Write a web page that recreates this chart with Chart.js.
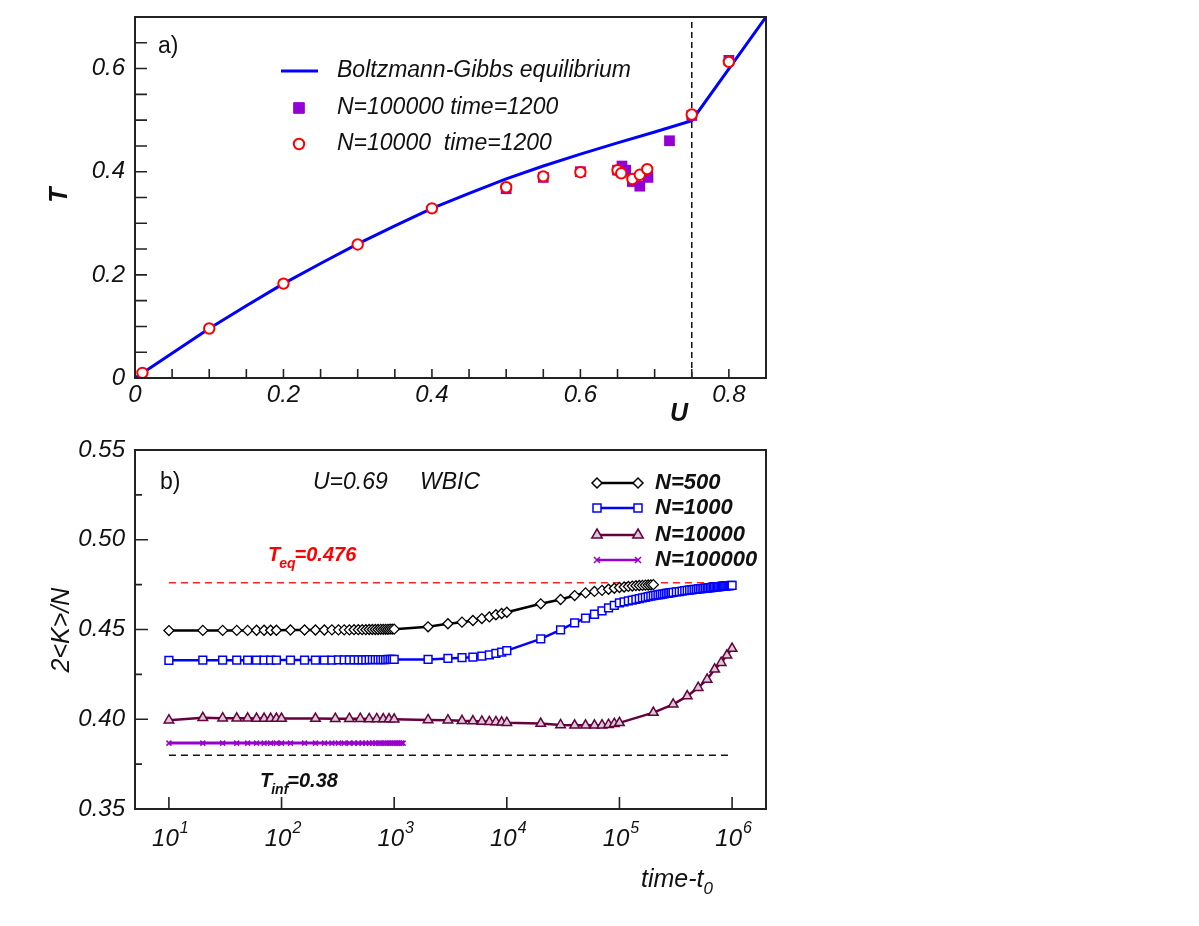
<!DOCTYPE html>
<html>
<head>
<meta charset="utf-8">
<title>HMF caloric curve and relaxation</title>
<script src="https://cdn.jsdelivr.net/npm/chart.js@4.4.1/dist/chart.umd.min.js"></script>
<style>
  html, body { margin: 0; padding: 0; background: #fff; }
  #wrap { position: relative; width: 1199px; height: 926px; background: #fff; }
  #canvasA { position: absolute; left: 0; top: 0; }
  #canvasB { position: absolute; left: 0; top: 430px; }
</style>
</head>
<body>
<div id="wrap">
  <canvas id="canvasA" width="800" height="430"></canvas>
  <canvas id="canvasB" width="800" height="496"></canvas>
</div>
<script>
// ---------- panel a) : caloric curve T(U) ----------
const gibbsU = [0, 0.05, 0.1, 0.15, 0.2, 0.25, 0.3, 0.35, 0.4, 0.45, 0.5, 0.55, 0.6, 0.65, 0.7, 0.75, 0.85];
const gibbsT = [0, 0.048, 0.096, 0.140, 0.183, 0.222, 0.260, 0.295, 0.329, 0.358, 0.386, 0.411, 0.434, 0.456, 0.477, 0.499, 0.700];

const bigU = [0.5, 0.55, 0.6, 0.65, 0.656, 0.661, 0.67, 0.68, 0.691, 0.72, 0.75, 0.8];
const bigT = [0.367, 0.389, 0.400, 0.403, 0.411, 0.403, 0.381, 0.372, 0.389, 0.460, 0.509, 0.616];

const smallU = [0.01, 0.1, 0.2, 0.3, 0.4, 0.5, 0.55, 0.6, 0.65, 0.655, 0.67, 0.68, 0.69, 0.75, 0.8];
const smallT = [0.010, 0.096, 0.183, 0.259, 0.329, 0.370, 0.391, 0.399, 0.403, 0.397, 0.386, 0.394, 0.405, 0.511, 0.613];

const uCritical = 0.75;
const uLabels = [0, 0.2, 0.4, 0.6, 0.8];
const tLabels = [0, 0.2, 0.4, 0.6];
const uMinorTicks = [0.05, 0.1, 0.15, 0.2, 0.25, 0.3, 0.35, 0.4, 0.45, 0.5, 0.55, 0.6, 0.65, 0.7, 0.75, 0.8];
const tMinorTicks = [0.05, 0.1, 0.15, 0.2, 0.25, 0.3, 0.35, 0.4, 0.45, 0.5, 0.55, 0.6, 0.65];

// ---------- panel b) : 2<K>/N versus time ----------
const time500 = [10, 20, 30, 40, 50, 60, 70, 80, 90,
  120, 160, 200, 240, 280, 320, 360, 400, 440, 480, 520, 560, 600, 640, 680, 720, 760, 800, 840, 880, 920, 960, 1000,
  2000, 3000, 4000, 5000, 6000, 7000, 8000, 9000, 10000,
  20000, 30000, 40000, 50000, 60000, 70000, 80000, 90000, 100000,
  110000, 120000, 130000, 140000, 150000, 160000, 170000, 180000, 190000, 200000];
const kin500 = [0.4494, 0.4495, 0.4495, 0.4495, 0.4495, 0.4496, 0.4496, 0.4496, 0.4496,
  0.4497, 0.4497, 0.4497, 0.4497, 0.4498, 0.4498, 0.4498, 0.4498, 0.4499, 0.4499, 0.4499, 0.4499, 0.4500, 0.4500, 0.4500, 0.4500, 0.4501, 0.4501, 0.4501, 0.4501, 0.4502, 0.4502, 0.4502,
  0.4515, 0.4532, 0.4541, 0.4550, 0.4561, 0.4570, 0.4582, 0.4589, 0.4596,
  0.4643, 0.4667, 0.4689, 0.4704, 0.4712, 0.4718, 0.4724, 0.4730, 0.4734,
  0.4737, 0.4740, 0.4742, 0.4744, 0.4745, 0.4746, 0.4747, 0.4748, 0.4749, 0.4750];

const time1000 = [10, 20, 30, 40, 50, 60, 70, 80, 90,
  120, 160, 200, 240, 280, 320, 360, 400, 440, 480, 520, 560, 600, 640, 680, 720, 760, 800, 840, 880, 920, 960, 1000,
  2000, 3000, 4000, 5000, 6000, 7000, 8000, 9000, 10000,
  20000, 30000, 40000, 50000, 60000, 70000, 80000, 90000, 100000,
  110000, 120000, 130000, 140000, 150000, 160000, 170000, 180000, 190000, 200000,
  210000, 220000, 230000, 240000, 250000, 260000, 270000, 280000, 290000, 300000,
  320000, 340000, 360000, 380000, 400000, 420000, 440000, 460000, 480000, 500000,
  520000, 540000, 560000, 580000, 600000, 620000, 640000, 660000, 680000, 700000,
  720000, 740000, 760000, 780000, 800000, 820000, 840000, 860000, 880000, 900000,
  920000, 940000, 960000, 980000, 1000000];
const kin1000 = [0.4328, 0.4329, 0.4329, 0.4329, 0.4329, 0.4329, 0.4329, 0.4330, 0.4330,
  0.4330, 0.4330, 0.4330, 0.4330, 0.4330, 0.4331, 0.4331, 0.4331, 0.4331, 0.4331, 0.4331, 0.4331, 0.4332, 0.4332, 0.4332, 0.4332, 0.4332, 0.4332, 0.4332, 0.4333, 0.4333, 0.4333, 0.4333,
  0.4333, 0.4339, 0.4343, 0.4346, 0.4352, 0.4359, 0.4367, 0.4374, 0.4382,
  0.4448, 0.4498, 0.4537, 0.4563, 0.4585, 0.4604, 0.4621, 0.4635, 0.4648,
  0.4654, 0.4659, 0.4664, 0.4668, 0.4672, 0.4676, 0.4679, 0.4683, 0.4686, 0.4689,
  0.4691, 0.4693, 0.4695, 0.4697, 0.4699, 0.4701, 0.4702, 0.4704, 0.4705, 0.4707,
  0.4709, 0.4711, 0.4714, 0.4716, 0.4718, 0.4720, 0.4721, 0.4723, 0.4724, 0.4726,
  0.4727, 0.4728, 0.4729, 0.4730, 0.4731, 0.4732, 0.4733, 0.4734, 0.4736, 0.4737,
  0.4737, 0.4738, 0.4739, 0.4739, 0.4740, 0.4741, 0.4742, 0.4742, 0.4743, 0.4744,
  0.4744, 0.4745, 0.4745, 0.4746, 0.4746];

const time10000 = [10, 20, 30, 40, 50, 60, 70, 80, 90, 100,
  200, 300, 400, 500, 600, 700, 800, 900, 1000,
  2000, 3000, 4000, 5000, 6000, 7000, 8000, 9000, 10000,
  20000, 30000, 40000, 50000, 60000, 70000, 80000, 90000, 100000,
  200000, 300000, 400000, 500000, 600000, 700000, 800000, 900000, 1000000];
const kin10000 = [0.3995, 0.4008, 0.4006, 0.4005, 0.4005, 0.4004, 0.4004, 0.4004, 0.4004, 0.4004,
  0.4004, 0.4003, 0.4003, 0.4003, 0.4002, 0.4002, 0.4001, 0.4001, 0.4000,
  0.3996, 0.3995, 0.3991, 0.3990, 0.3988, 0.3986, 0.3985, 0.3983, 0.3981,
  0.3976, 0.3968, 0.3966, 0.3966, 0.3966, 0.3967, 0.3970, 0.3975, 0.3980,
  0.4037, 0.4083, 0.4129, 0.4176, 0.4222, 0.4278, 0.4315, 0.4356, 0.4394];

const time100000 = [10, 20, 30, 40, 50, 60, 70, 80, 90, 100,
  120, 160, 200, 240, 280, 320, 360, 400, 440, 480, 520, 560, 600, 640, 680, 720, 760, 800, 840, 880, 920, 960, 1000,
  1040, 1080, 1120, 1160, 1200];
const kin100000 = [0.3867, 0.3867, 0.3867, 0.3867, 0.3867, 0.3867, 0.3867, 0.3867, 0.3867, 0.3867,
  0.3867, 0.3867, 0.3867, 0.3867, 0.3867, 0.3867, 0.3867, 0.3867, 0.3867, 0.3867, 0.3867, 0.3867, 0.3867, 0.3867, 0.3867, 0.3867, 0.3867, 0.3867, 0.3867, 0.3867, 0.3867, 0.3867, 0.3867,
  0.3867, 0.3867, 0.3867, 0.3867, 0.3867];

const tEquilibrium = 0.476;
const tInfinite = 0.38;
const timeSpan = [10, 1000000];
const timeLabels = [1, 2, 3, 4, 5, 6];
const kinLabels = [0.35, 0.4, 0.45, 0.5, 0.55];
const kinMajorTicks = [0.4, 0.45, 0.5];
const kinMinorTicks = [0.375, 0.425, 0.475, 0.525];

// ---------- helpers ----------
const FAMILY = '"Liberation Sans", Arial, Helvetica, sans-serif';
const INK = '#111';
function font(size, bold, italic) {
  return (italic ? 'italic ' : '') + (bold ? 'bold ' : '') + size + 'px ' + FAMILY;
}
function pts(xs, ys) {
  return xs.map((x, i) => ({ x: x, y: ys[i] }));
}
function text(ctx, str, x, y, f, color, align) {
  ctx.font = f;
  ctx.fillStyle = color || INK;
  ctx.textAlign = align || 'left';
  ctx.textBaseline = 'middle';
  ctx.fillText(str, x, y);
  return ctx.measureText(str).width;
}
// text with a subscript piece: main, sub, rest
function subText(ctx, x, y, main, sub, rest, size, subSize, color) {
  let w = text(ctx, main, x, y, font(size, true, true), color);
  let w2 = text(ctx, sub, x + w - 1, y + 9, font(subSize, true, true), color);
  text(ctx, rest, x + w + w2 - 2, y, font(size, true, true), color);
}
function frame(ctx, a) {
  ctx.save();
  ctx.strokeStyle = '#222';
  ctx.lineWidth = 2;
  ctx.strokeRect(a.left, a.top, a.right - a.left, a.bottom - a.top);
  ctx.restore();
}
function xTicks(ctx, scale, values, len) {
  const y = scale.chart.chartArea.bottom;
  ctx.beginPath();
  values.forEach(v => {
    const x = scale.getPixelForValue(v);
    ctx.moveTo(x, y);
    ctx.lineTo(x, y - len);
  });
  ctx.stroke();
}
function yTicks(ctx, scale, values, len) {
  const x = scale.chart.chartArea.left;
  ctx.beginPath();
  values.forEach(v => {
    const y = scale.getPixelForValue(v);
    ctx.moveTo(x, y);
    ctx.lineTo(x + len, y);
  });
  ctx.stroke();
}
function marker(ctx, style, x, y, r, fill, stroke, lw) {
  ctx.save();
  ctx.fillStyle = fill;
  ctx.strokeStyle = stroke;
  ctx.lineWidth = lw;
  ctx.beginPath();
  if (style === 'diamond') {
    ctx.moveTo(x - r, y); ctx.lineTo(x, y - r); ctx.lineTo(x + r, y); ctx.lineTo(x, y + r); ctx.closePath();
  } else if (style === 'square') {
    ctx.rect(x - r, y - r, 2 * r, 2 * r);
  } else if (style === 'triangle') {
    ctx.moveTo(x, y - r); ctx.lineTo(x + r * 0.87, y + r * 0.5); ctx.lineTo(x - r * 0.87, y + r * 0.5); ctx.closePath();
  } else if (style === 'circle') {
    ctx.arc(x, y, r, 0, Math.PI * 2);
  } else if (style === 'cross') {
    ctx.moveTo(x - r, y - r); ctx.lineTo(x + r, y + r); ctx.moveTo(x - r, y + r); ctx.lineTo(x + r, y - r);
  }
  if (style !== 'cross') ctx.fill();
  ctx.stroke();
  ctx.restore();
}
// fix axis box size and drop the label overflow padding
function fixWidth(w) {
  return s => { s.width = w; s.paddingTop = 0; s.paddingBottom = 0; s.paddingLeft = 0; s.paddingRight = 0; };
}
function fixHeight(h) {
  return s => { s.height = h; s.paddingTop = 0; s.paddingBottom = 0; s.paddingLeft = 0; s.paddingRight = 0; };
}

const common = {
  responsive: false,
  animation: false,
  events: [],
  plugins: { legend: { display: false }, tooltip: { enabled: false } }
};

// ---------- chart a ----------
const decorA = {
  id: 'decorA',
  afterDraw(chart) {
    const ctx = chart.ctx, a = chart.chartArea;
    const xs = chart.scales.x, ys = chart.scales.y;
    ctx.save();
    frame(ctx, a);
    ctx.strokeStyle = '#222';
    ctx.lineWidth = 1.6;
    xTicks(ctx, xs, uMinorTicks, 9);
    yTicks(ctx, ys, tMinorTicks, 12);

    text(ctx, 'a)', 158, 47, font(23, false, false));
    // legend
    ctx.strokeStyle = '#0000ff';
    ctx.lineWidth = 3;
    ctx.beginPath(); ctx.moveTo(281, 71); ctx.lineTo(318, 71); ctx.stroke();
    text(ctx, 'Boltzmann-Gibbs equilibrium', 337, 71, font(23, false, true));
    marker(ctx, 'square', 299, 108, 5.3, '#9400d3', '#9400d3', 1);
    text(ctx, 'N=100000 time=1200', 337, 108, font(23, false, true));
    marker(ctx, 'circle', 299, 144, 5.2, '#fff', '#ff0000', 2);
    text(ctx, 'N=10000  time=1200', 337, 144, font(23, false, true));

    // axis titles
    text(ctx, 'U', 679, 414, font(25, true, true), INK, 'center');
    ctx.save();
    ctx.translate(60, 195);
    ctx.rotate(-Math.PI / 2);
    text(ctx, 'T', 0, 0, font(25, true, true), INK, 'center');
    ctx.restore();
    ctx.restore();
  }
};

new Chart(document.getElementById('canvasA'), {
  type: 'scatter',
  data: {
    datasets: [
      {
        label: 'N=10000  time=1200',
        data: pts(smallU, smallT),
        pointStyle: 'circle', pointRadius: 5.2,
        backgroundColor: '#ffffff', borderColor: '#ff0000', borderWidth: 2
      },
      {
        label: 'N=100000 time=1200',
        data: pts(bigU, bigT),
        pointStyle: 'rect', pointRadius: 7.6,
        backgroundColor: '#9400d3', borderColor: '#9400d3', borderWidth: 0
      },
      {
        label: 'Boltzmann-Gibbs equilibrium',
        data: pts(gibbsU, gibbsT),
        showLine: true, tension: 0, pointRadius: 0,
        borderColor: '#0000ff', borderWidth: 3
      },
      {
        label: 'U critical',
        data: [{ x: uCritical, y: 0 }, { x: uCritical, y: 0.7 }],
        showLine: true, pointRadius: 0,
        borderColor: '#111', borderWidth: 1.5, borderDash: [6, 4]
      }
    ]
  },
  options: Object.assign({}, common, {
    layout: { padding: { top: 17, right: 34, left: 0, bottom: 0 } },
    scales: {
      x: {
        type: 'linear', min: 0, max: 0.85,
        afterBuildTicks(s) { s.ticks = uLabels.map(v => ({ value: v })); },
        ticks: {
          font: { family: FAMILY, size: 24, style: 'italic' }, color: INK, padding: 3,
          callback: v => v === 0 ? '0' : v.toFixed(1)
        },
        grid: { display: false, drawTicks: false },
        border: { display: false },
        afterFit: fixHeight(52)
      },
      y: {
        type: 'linear', min: 0, max: 0.7,
        afterBuildTicks(s) { s.ticks = tLabels.map(v => ({ value: v })); },
        ticks: {
          font: { family: FAMILY, size: 24, style: 'italic' }, color: INK, padding: 10,
          callback: v => v === 0 ? '0' : v.toFixed(1)
        },
        grid: { display: false, drawTicks: false },
        border: { display: false },
        afterFit: fixWidth(135)
      }
    }
  }),
  plugins: [decorA]
});

// ---------- chart b ----------
const decorB = {
  id: 'decorB',
  afterDraw(chart) {
    const ctx = chart.ctx, a = chart.chartArea;
    const xs = chart.scales.x, ys = chart.scales.y;
    ctx.save();
    frame(ctx, a);
    ctx.strokeStyle = '#222';
    ctx.lineWidth = 1.6;
    xTicks(ctx, xs, timeLabels.map(k => Math.pow(10, k)), 12);
    yTicks(ctx, ys, kinMajorTicks, 13);
    yTicks(ctx, ys, kinMinorTicks, 7);

    // decade labels 10^k
    timeLabels.forEach(k => {
      const px = xs.getPixelForValue(Math.pow(10, k));
      ctx.font = font(24, false, true);
      const w10 = ctx.measureText('10').width;
      ctx.font = font(16, false, true);
      const wk = ctx.measureText(String(k)).width;
      const x0 = px - (w10 + wk) / 2 + 1;
      text(ctx, '10', x0, 409, font(24, false, true));
      text(ctx, String(k), x0 + w10 + 1, 399, font(16, false, true));
    });

    text(ctx, 'b)', 160, 53, font(23, false, false));
    text(ctx, 'U=0.69', 313, 53, font(23, false, true));
    text(ctx, 'WBIC', 420, 53, font(23, false, true));

    // legend
    const rows = [
      ['N=500', 'diamond', 5, '#000000', '#ffffff'],
      ['N=1000', 'square', 4, '#0000ff', '#ffffff'],
      ['N=10000', 'triangle', 6, '#660040', '#d8ccd4'],
      ['N=100000', 'cross', 3, '#9900cc', '#9900cc']
    ];
    const rowY = [53, 78, 105, 130];
    rows.forEach((r, i) => {
      const y = rowY[i];
      ctx.strokeStyle = r[3];
      ctx.lineWidth = 2.5;
      ctx.beginPath(); ctx.moveTo(597, y); ctx.lineTo(638, y); ctx.stroke();
      marker(ctx, r[1], 597, y, r[2], r[4], r[3], 1.5);
      marker(ctx, r[1], 638, y, r[2], r[4], r[3], 1.5);
      text(ctx, r[0], 655, y, font(22, true, true));
    });

    subText(ctx, 268, 125, 'T', 'eq', '=0.476', 20, 14, '#ff0000');
    subText(ctx, 260, 351, 'T', 'inf', '=0.38', 20, 14, INK);

    // axis titles
    ctx.save();
    ctx.translate(62, 200);
    ctx.rotate(-Math.PI / 2);
    text(ctx, '2<K>/N', 0, 0, font(25, false, true), INK, 'center');
    ctx.restore();
    const wt = text(ctx, 'time-t', 641, 450, font(25, false, true));
    text(ctx, '0', 641 + wt, 459, font(17, false, true));
    ctx.restore();
  }
};

new Chart(document.getElementById('canvasB'), {
  type: 'scatter',
  data: {
    datasets: [
      {
        label: 'N=500',
        data: pts(time500, kin500),
        showLine: true, tension: 0,
        borderColor: '#000000', borderWidth: 2.5,
        pointStyle: 'rectRot', pointRadius: 5,
        pointBackgroundColor: '#ffffff', pointBorderColor: '#000000', pointBorderWidth: 1.3
      },
      {
        label: 'N=1000',
        data: pts(time1000, kin1000),
        showLine: true, tension: 0,
        borderColor: '#0000ff', borderWidth: 2.5,
        pointStyle: 'rect', pointRadius: 5.5,
        pointBackgroundColor: '#ffffff', pointBorderColor: '#0000ff', pointBorderWidth: 1.5
      },
      {
        label: 'N=10000',
        data: pts(time10000, kin10000),
        showLine: true, tension: 0,
        borderColor: '#660040', borderWidth: 2.5,
        pointStyle: 'triangle', pointRadius: 5.5,
        pointBackgroundColor: '#d8ccd4', pointBorderColor: '#660040', pointBorderWidth: 1.5
      },
      {
        label: 'N=100000',
        data: pts(time100000, kin100000),
        showLine: true, tension: 0,
        borderColor: '#9900cc', borderWidth: 3,
        pointStyle: 'crossRot', pointRadius: 3.5,
        pointBorderColor: '#9900cc', pointBorderWidth: 1.5
      },
      {
        label: 'T_eq',
        data: pts(timeSpan, [tEquilibrium, tEquilibrium]),
        showLine: true, pointRadius: 0,
        borderColor: '#ff2020', borderWidth: 1.5, borderDash: [7, 5]
      },
      {
        label: 'T_inf',
        data: pts(timeSpan, [tInfinite, tInfinite]),
        showLine: true, pointRadius: 0,
        borderColor: '#111111', borderWidth: 1.5, borderDash: [7, 5]
      }
    ]
  },
  options: Object.assign({}, common, {
    layout: { padding: { top: 20, right: 34, left: 0, bottom: 0 } },
    scales: {
      x: {
        type: 'logarithmic', min: 5, max: 2000000,
        ticks: { display: false },
        grid: { display: false, drawTicks: false },
        border: { display: false },
        afterFit: fixHeight(117)
      },
      y: {
        type: 'linear', min: 0.35, max: 0.55,
        afterBuildTicks(s) { s.ticks = kinLabels.map(v => ({ value: v })); },
        ticks: {
          font: { family: FAMILY, size: 24, style: 'italic' }, color: INK, padding: 10,
          callback: v => v.toFixed(2)
        },
        grid: { display: false, drawTicks: false },
        border: { display: false },
        afterFit: fixWidth(135)
      }
    }
  }),
  plugins: [decorB]
});
</script>
</body>
</html>
